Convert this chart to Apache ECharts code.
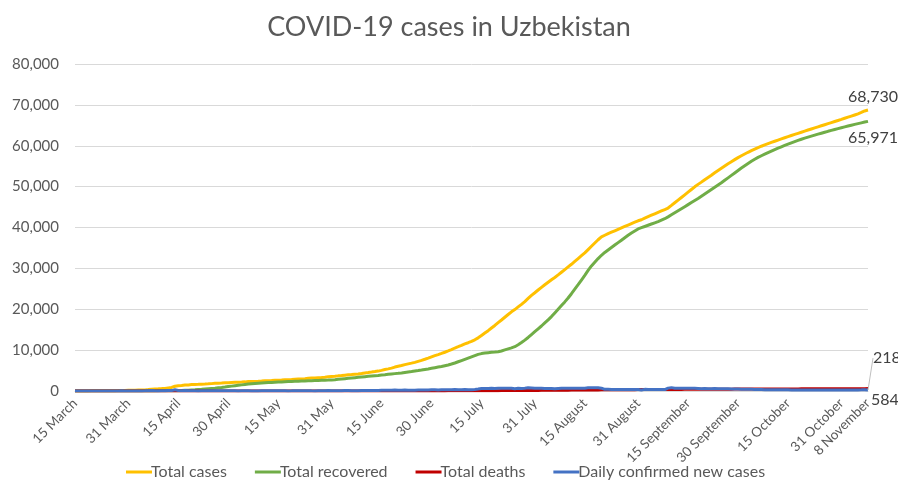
<!DOCTYPE html>
<html>
<head>
<meta charset="utf-8">
<title>COVID-19 cases in Uzbekistan</title>
<script src="https://cdn.jsdelivr.net/npm/echarts@6/dist/echarts.min.js"></script>
<style>
  html, body { margin: 0; padding: 0; background: #fff; }
  #chart { width: 898px; height: 481px; }
</style>
</head>
<body>
<div id="chart"></div>
<script>
// daily values, 15 March .. 8 November
const totalCases = [
  1, 6, 10, 15, 23, 33, 43, 43, 46, 60, 65, 75, 88, 104, 144, 149, 172,
  181, 205, 221, 227, 266, 342, 457, 520, 545, 582, 624, 767, 865, 1165, 1302, 1349, 1450, 1490, 1565, 1604, 1627, 1678, 1716, 1758, 1804, 1869, 1904, 1939, 2002, 2039,
  2086, 2127, 2149, 2189, 2233, 2298, 2325, 2349, 2366, 2418, 2486, 2519, 2559, 2612, 2645, 2686, 2728, 2753, 2791, 2860, 2914, 2955, 3028, 3112, 3164, 3189, 3256, 3290, 3369, 3468, 3554,
  3623, 3702, 3770, 3874, 3967, 4031, 4105, 4169, 4293, 4419, 4520, 4630, 4746, 4867, 5052, 5246, 5416, 5602, 5854, 6055, 6236, 6458, 6638, 6814, 7001, 7248, 7495, 7757, 8031, 8341,
  8641, 8904, 9189, 9478, 9799, 10126, 10515, 10838, 11166, 11529, 11812, 12127, 12521, 13006, 13591, 14174, 14758, 15408, 16031, 16712, 17369, 18047, 18721, 19371, 19922, 20569, 21209, 21881, 22650, 23393, 24039,
  24700, 25350, 25990, 26600, 27200, 27780, 28400, 29050, 29700, 30350, 31000, 31700, 32400, 33100, 33800, 34600, 35400, 36200, 37000, 37700, 38100, 38500, 38850, 39200, 39550, 39900, 40250, 40600, 40950, 41300, 41650,
  41900, 42300, 42650, 43000, 43350, 43700, 44050, 44400, 44760, 45400, 46050, 46700, 47350, 48000, 48650, 49300, 49950, 50550, 51100, 51700, 52250, 52800, 53400, 53950, 54500, 55050, 55600, 56100, 56600, 57100,
  57550, 57980, 58400, 58800, 59180, 59540, 59880, 60200, 60510, 60810, 61100, 61390, 61670, 61950, 62230, 62500, 62770, 63040, 63310, 63580, 63850, 64110, 64370, 64630, 64890, 65150, 65410, 65670, 65930, 66190, 66450,
  66720, 66990, 67260, 67530, 67800, 68150, 68512, 68730
];
const totalRecovered = [
  0, 0, 0, 0, 0, 0, 0, 0, 0, 0, 0, 0, 0, 2, 5, 6, 7,
  8, 10, 12, 15, 20, 25, 30, 30, 34, 38, 42, 48, 55, 70, 90, 120, 160, 200, 250, 300, 360, 420, 490, 560, 630, 700, 780, 860, 960, 1080,
  1190, 1300, 1400, 1500, 1600, 1700, 1780, 1850, 1910, 1960, 2010, 2060, 2100, 2140, 2180, 2220, 2260, 2300, 2340, 2380, 2410, 2440, 2470, 2500, 2530, 2560, 2590, 2620, 2650, 2680, 2720,
  2780, 2860, 2940, 3020, 3100, 3180, 3260, 3340, 3420, 3500, 3580, 3660, 3740, 3820, 3910, 4000, 4100, 4180, 4250, 4320, 4420, 4530, 4640, 4750, 4870, 4990, 5120, 5260, 5400, 5550,
  5700, 5850, 6000, 6180, 6360, 6600, 6850, 7150, 7450, 7750, 8050, 8350, 8650, 8950, 9150, 9280, 9380, 9460, 9530, 9620, 9800, 10050, 10300, 10550, 10840, 11300, 11850, 12450, 13100, 13800, 14500,
  15200, 15900, 16650, 17400, 18200, 19100, 20000, 20900, 21800, 22750, 23800, 24900, 26000, 27150, 28300, 29500, 30600, 31500, 32400, 33200, 33900, 34500, 35100, 35700, 36300, 36900, 37500, 38100, 38650, 39150, 39650,
  39950, 40250, 40550, 40850, 41150, 41450, 41800, 42150, 42600, 43100, 43600, 44100, 44600, 45100, 45600, 46100, 46600, 47100, 47650, 48200, 48750, 49300, 49850, 50400, 50950, 51550, 52150, 52750, 53350, 53950,
  54550, 55100, 55650, 56200, 56700, 57150, 57550, 57950, 58330, 58700, 59060, 59410, 59750, 60080, 60400, 60710, 61010, 61300, 61580, 61850, 62110, 62360, 62600, 62840, 63070, 63300, 63530, 63750, 63970, 64190, 64400,
  64610, 64820, 65020, 65220, 65410, 65600, 65790, 65971
];
const totalDeaths = [
  0, 0, 0, 0, 0, 0, 0, 0, 0, 0, 0, 0, 1, 1, 2, 2, 2,
  2, 2, 2, 2, 2, 2, 3, 3, 3, 3, 3, 3, 4, 4, 4, 5, 5, 5, 5, 5, 6, 6, 7, 7, 8, 8, 8, 8, 9, 10,
  10, 10, 10, 10, 10, 10, 10, 10, 10, 10, 10, 11, 11, 11, 11, 11, 12, 12, 12, 12, 12, 13, 13, 13, 13, 13, 13, 13, 14, 14, 14,
  14, 14, 15, 15, 15, 15, 16, 16, 16, 16, 17, 17, 17, 18, 18, 19, 19, 19, 19, 20, 20, 20, 21, 21, 21, 21, 22, 22, 23, 23,
  24, 25, 27, 29, 31, 33, 35, 37, 39, 41, 43, 46, 50, 55, 63, 67, 72, 77, 82, 87, 93, 98, 103, 108, 113, 118, 123, 129, 134, 140, 146,
  152, 158, 164, 171, 178, 185, 192, 199, 206, 213, 220, 227, 234, 241, 251, 257, 263, 269, 275, 281, 287, 292, 297, 302, 307, 312, 317, 322, 327, 332, 341,
  345, 350, 355, 360, 364, 368, 372, 376, 380, 384, 388, 392, 396, 400, 409, 413, 417, 421, 425, 429, 433, 437, 441, 445, 449, 452, 455, 458, 462, 465,
  468, 471, 474, 477, 480, 483, 486, 489, 492, 495, 498, 501, 504, 507, 510, 513, 516, 519, 522, 525, 528, 531, 534, 537, 540, 543, 546, 549, 552, 555, 558,
  561, 564, 567, 570, 573, 576, 580, 584
];
const dailyNewCases = [
  1, 5, 4, 5, 8, 10, 10, 0, 3, 14, 5, 10, 13, 16, 40, 5, 23,
  9, 24, 16, 6, 39, 76, 115, 63, 25, 37, 42, 143, 98, 300, 137, 47, 101, 40, 75, 39, 23, 51, 38, 42, 46, 65, 35, 35, 63, 37,
  47, 41, 22, 40, 44, 65, 27, 24, 17, 52, 68, 33, 40, 53, 33, 41, 42, 25, 38, 69, 54, 41, 73, 84, 52, 25, 67, 34, 79, 99, 86,
  69, 79, 68, 104, 93, 64, 74, 64, 124, 126, 101, 110, 116, 121, 185, 194, 170, 186, 252, 201, 181, 222, 180, 176, 187, 247, 247, 262, 274, 310,
  300, 263, 285, 289, 321, 327, 389, 323, 328, 363, 283, 315, 394, 485, 585, 583, 584, 650, 623, 681, 657, 678, 674, 650, 551, 647, 640, 672, 769, 743, 646,
  661, 650, 640, 610, 600, 580, 620, 650, 650, 650, 650, 700, 700, 700, 700, 800, 800, 800, 800, 700, 400, 400, 350, 350, 350, 350, 350, 350, 350, 350, 350,
  250, 400, 350, 350, 350, 350, 350, 350, 700, 820, 650, 650, 650, 650, 650, 650, 650, 600, 550, 600, 550, 550, 600, 550, 550, 550, 550, 500, 500, 500,
  450, 430, 420, 400, 380, 360, 340, 320, 310, 300, 290, 290, 280, 280, 280, 270, 270, 270, 270, 270, 270, 260, 260, 260, 260, 260, 260, 260, 260, 260, 260,
  270, 270, 270, 270, 270, 280, 320, 218
];
const tickLabels = ['15 March', '31 March', '15 April', '30 April', '15 May', '31 May', '15 June', '30 June',
  '15 July', '31 July', '15 August', '31 August', '15 September', '30 September', '15 October', '31 October', '8 November'];
const monthNames = ['January', 'February', 'March', 'April', 'May', 'June', 'July', 'August', 'September', 'October', 'November', 'December'];

// one category per day starting 15 March 2020
const start = Date.UTC(2020, 2, 15);
const categories = totalCases.map((v, i) => {
  const d = new Date(start + i * 86400000);
  return d.getUTCDate() + ' ' + monthNames[d.getUTCMonth()];
});

const fmt = n => n.toLocaleString('en-US');

// value label on the last point only
function lastLabel(values, opt) {
  return values.map((v, i) => i === values.length - 1
    ? { value: v, label: Object.assign({ show: true, formatter: p => fmt(p.value), fontSize: 16, color: '#404040', fontFamily: 'Lato' }, opt) }
    : v);
}

function lineSeries(name, data, extra) {
  return Object.assign({
    name: name,
    type: 'line',
    showSymbol: true,
    showAllSymbol: true,
    symbol: 'circle',
    symbolSize: 0,
    lineStyle: { width: 3 },
    emphasis: { disabled: true },
    label: { show: false },
    data: data
  }, extra || {});
}

const chart = echarts.init(document.getElementById('chart'));
chart.setOption({
  animation: false,
  textStyle: { fontFamily: 'Lato' },
  color: ['#FFC000', '#70AD47', '#C00000', '#4472C4'],
  title: {
    text: 'COVID-19 cases in Uzbekistan',
    left: 'center',
    top: 9,
    textStyle: { fontSize: 27, fontWeight: 'normal', color: '#595959', fontFamily: 'Lato' }
  },
  grid: { left: 75, right: 30, top: 64, bottom: 90 },
  legend: {
    bottom: 1,
    left: 126,
    padding: 0,
    icon: 'rect',
    itemWidth: 26,
    itemHeight: 3,
    itemGap: 28,
    textStyle: { fontSize: 16, color: '#595959', padding: [0, 0, 0, -6] }
  },
  xAxis: {
    type: 'category',
    data: categories,
    boundaryGap: false,
    axisLine: { lineStyle: { color: '#d9d9d9' } },
    axisTick: { show: false },
    axisLabel: {
      interval: (idx, name) => tickLabels.includes(name),
      rotate: 45,
      fontSize: 13.5,
      color: '#595959',
      margin: 10
    }
  },
  yAxis: {
    type: 'value',
    min: 0,
    max: 80000,
    interval: 10000,
    axisLine: { show: false },
    axisTick: { show: false },
    splitLine: { lineStyle: { color: '#d9d9d9' } },
    axisLabel: { formatter: v => fmt(v), fontSize: 15, color: '#595959', margin: 16 }
  },
  series: [
    lineSeries('Total cases', lastLabel(totalCases, { position: 'top', offset: [5, 0] })),
    lineSeries('Total recovered', lastLabel(totalRecovered, { position: 'bottom', offset: [5, 4] })),
    lineSeries('Total deaths', lastLabel(totalDeaths, { position: 'right', offset: [-2, 11] })),
    lineSeries('Daily confirmed new cases', lastLabel(dailyNewCases, { position: 'right', offset: [-2, 0] }), {
      labelLayout: { dy: -32 },
      labelLine: { show: true, lineStyle: { color: '#bfbfbf', width: 1 } }
    })
  ]
});
</script>
</body>
</html>
